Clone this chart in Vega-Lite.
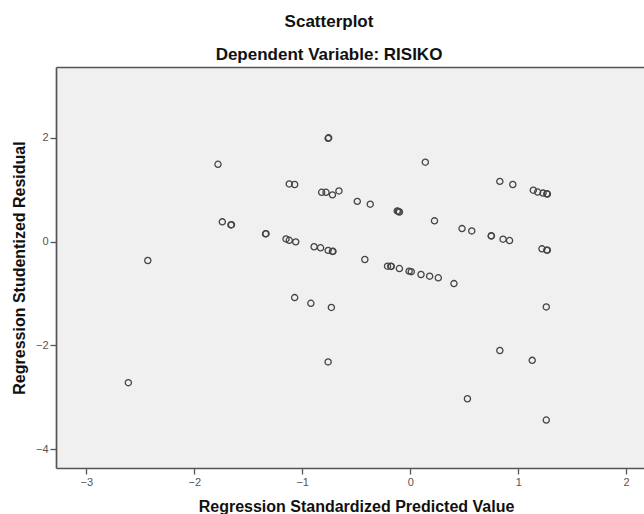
{
  "$schema": "https://vega.github.io/schema/vega-lite/v6.json",
  "width": 588,
  "height": 401,
  "autosize": {"type": "none"},
  "padding": {"left": 56, "top": 67, "right": 0, "bottom": 46},
  "background": "white",
  "title": {
    "text": "Scatterplot",
    "subtitle": "Dependent Variable: RISIKO",
    "font": "Liberation Sans",
    "fontSize": 17,
    "fontWeight": "bold",
    "color": "#111111",
    "subtitleFont": "Liberation Sans",
    "subtitleFontSize": 17,
    "subtitleFontWeight": "bold",
    "subtitleColor": "#111111",
    "subtitlePadding": 16,
    "anchor": "middle",
    "dx": -21,
    "offset": 3
  },
  "config": {
    "view": {"fill": "#f0f0f0", "stroke": null},
    "axis": {
      "domainColor": "#555555",
      "domainWidth": 1.7,
      "tickColor": "#555555",
      "tickWidth": 1.3,
      "tickSize": 6,
      "grid": false,
      "labelColor": "#555555",
      "labelFont": "Liberation Sans",
      "labelFontSize": 11,
      "titleFont": "Liberation Sans",
      "titleFontSize": 16,
      "titleFontWeight": "bold",
      "titleColor": "#111111"
    }
  },
  "data": {
    "values": [
      {"x": -0.76, "y": 1.99}, {"x": -0.755, "y": 2.0},
      {"x": -1.78, "y": 1.49},
      {"x": -1.12, "y": 1.11}, {"x": -1.07, "y": 1.10},
      {"x": -0.82, "y": 0.95}, {"x": -0.78, "y": 0.95}, {"x": -0.72, "y": 0.90}, {"x": -0.66, "y": 0.975},
      {"x": -0.49, "y": 0.775},
      {"x": -1.74, "y": 0.38}, {"x": -1.66, "y": 0.32}, {"x": -1.655, "y": 0.325},
      {"x": -1.34, "y": 0.15}, {"x": -1.335, "y": 0.152},
      {"x": -1.15, "y": 0.05}, {"x": -1.12, "y": 0.025}, {"x": -1.06, "y": -0.006},
      {"x": -0.89, "y": -0.10}, {"x": -0.83, "y": -0.12}, {"x": -0.76, "y": -0.17}, {"x": -0.72, "y": -0.19}, {"x": -0.715, "y": -0.188},
      {"x": -1.07, "y": -1.08}, {"x": -0.92, "y": -1.19}, {"x": -0.73, "y": -1.27},
      {"x": -0.76, "y": -2.32},
      {"x": -2.43, "y": -0.365},
      {"x": -2.61, "y": -2.72},
      {"x": 0.14, "y": 1.53},
      {"x": 0.83, "y": 1.16}, {"x": 0.95, "y": 1.10},
      {"x": 1.14, "y": 0.99}, {"x": 1.18, "y": 0.955}, {"x": 1.23, "y": 0.935}, {"x": 1.27, "y": 0.917}, {"x": 1.265, "y": 0.92},
      {"x": -0.37, "y": 0.72},
      {"x": -0.12, "y": 0.59}, {"x": -0.11, "y": 0.58}, {"x": -0.10, "y": 0.57},
      {"x": 0.225, "y": 0.40},
      {"x": 0.48, "y": 0.25}, {"x": 0.57, "y": 0.205},
      {"x": 0.75, "y": 0.11}, {"x": 0.752, "y": 0.108},
      {"x": 0.86, "y": 0.045}, {"x": 0.92, "y": 0.02},
      {"x": 1.22, "y": -0.14}, {"x": 1.27, "y": -0.167}, {"x": 1.265, "y": -0.165},
      {"x": -0.42, "y": -0.346},
      {"x": -0.21, "y": -0.475}, {"x": -0.18, "y": -0.475}, {"x": -0.175, "y": -0.48},
      {"x": -0.10, "y": -0.52}, {"x": -0.01, "y": -0.57}, {"x": 0.01, "y": -0.58},
      {"x": 0.10, "y": -0.635}, {"x": 0.18, "y": -0.667}, {"x": 0.26, "y": -0.698}, {"x": 0.405, "y": -0.81},
      {"x": 1.26, "y": -1.26},
      {"x": 0.83, "y": -2.10}, {"x": 1.13, "y": -2.29},
      {"x": 0.53, "y": -3.03},
      {"x": 1.26, "y": -3.44}
    ]
  },
  "layer": [
    {
      "mark": {"type": "point", "shape": "circle", "filled": false, "stroke": "#444444", "strokeWidth": 1.3, "size": 38, "opacity": 1},
      "encoding": {
        "x": {
          "field": "x", "type": "quantitative",
          "scale": {"domain": [-3.28, 2.165], "nice": false, "zero": false},
          "axis": {"values": [-3, -2, -1, 0, 1, 2], "title": "Regression Standardized Predicted Value", "labelPadding": 2, "titlePadding": 11, "titleX": 300}
        },
        "y": {
          "field": "y", "type": "quantitative",
          "scale": {"domain": [-4.365, 3.365], "nice": false, "zero": false},
          "axis": {"values": [-4, -2, 0, 2], "title": "Regression Studentized Residual", "labelPadding": 2, "titlePadding": 8}
        }
      }
    },
    {
      "mark": {"type": "point", "opacity": 0},
      "encoding": {
        "x": {
          "field": "x", "type": "quantitative",
          "scale": {"domain": [-3.28, 2.165], "nice": false, "zero": false},
          "axis": {"orient": "top", "labels": false, "ticks": false, "title": null}
        }
      }
    }
  ],
  "resolve": {"axis": {"x": "independent"}}
}
